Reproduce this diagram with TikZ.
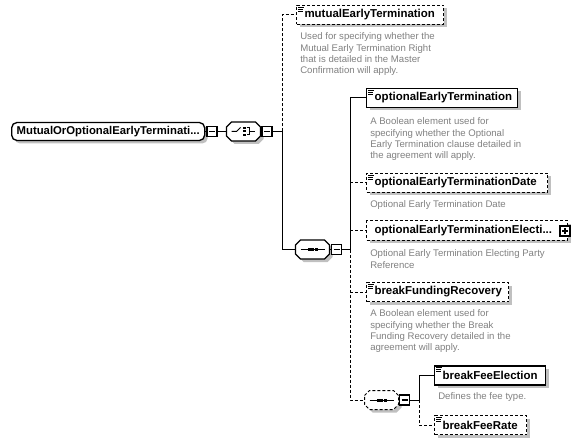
\documentclass[tikz,border=0pt]{standalone}
\usepackage{fontspec}
\setmainfont{Liberation Sans}
\usetikzlibrary{shadows,calc}
\definecolor{docgray}{RGB}{128,128,128}
\definecolor{shadowgray}{RGB}{192,192,192}
\tikzset{
 shd/.style={drop shadow={shadow xshift=2.25pt,shadow yshift=-2.25pt,fill=shadowgray,opacity=1}},
 elem/.style={shd,draw,fill=white,line width=1.1pt,anchor=west,minimum height=14.25pt,inner xsep=6pt,inner ysep=0pt,align=left,font=\fontsize{8.6}{10}\selectfont\bfseries},
 optelem/.style={elem,line width=0.75pt,dash pattern=on 2.25pt off 1.5pt},
 rootst/.style={shd,draw,fill=white,line width=1pt,rounded corners=4pt,anchor=west,minimum height=13.5pt,inner xsep=3.75pt,inner ysep=0pt,align=left,font=\fontsize{8.5}{10}\selectfont\bfseries},
 doc/.style={anchor=north west,inner sep=0pt,align=left,text=docgray,font=\fontsize{7.2}{8.55}\selectfont},
 compnode/.style={draw=none,minimum width=25.5pt,minimum height=14.25pt,inner sep=0pt},
 pm/.style={draw,fill=white,line width=1.2pt,minimum size=7.5pt,inner sep=0pt},
 minusbox/.style={pm,path picture={\draw[line width=0.8pt] ([xshift=1.5pt]path picture bounding box.west) -- ([xshift=-1.5pt]path picture bounding box.east);}},
 plusbox/.style={pm,path picture={\draw[line width=0.8pt] ([xshift=1.5pt]path picture bounding box.west) -- ([xshift=-1.5pt]path picture bounding box.east) ([yshift=-1.5pt]path picture bounding box.north) -- ([yshift=1.5pt]path picture bounding box.south);}},
 conn/.style={line width=0.75pt},
 optconn/.style={conn,dash pattern=on 2.25pt off 1.5pt},
 octline/.style={line width=0.9pt},
 optoctline/.style={line width=0.75pt,dash pattern=on 2.25pt off 1.5pt}
}
\newcommand\octa[2]{%
 \fill[shadowgray] ([shift={(3,3)}]#1.center) +(-17,-4.5) -- +(-12,-9.5) -- +(12,-9.5) -- +(17,-4.5) -- +(17,4.5) -- +(12,9.5) -- +(-12,9.5) -- +(-17,4.5) -- cycle;
 \draw[fill=white,#2] (#1.center) +(-17,-4.5) -- +(-12,-9.5) -- +(12,-9.5) -- +(17,-4.5) -- +(17,4.5) -- +(12,9.5) -- +(-12,9.5) -- +(-17,4.5) -- cycle;}
\newcommand\seqsym[1]{%
 \begin{scope}[shift={(#1.center)}]
  \draw[conn] (-12,0) -- (12,0);
  \fill (-5,-1.5) rectangle (-2,1.5);
  \fill (-1.5,-1.5) rectangle (1.5,1.5);
  \fill (2,-1.5) rectangle (5,1.5);
 \end{scope}}
\newcommand\elicon[1]{%
 \draw[line width=0.75pt] ([shift={(2,2.5)}]#1.north west) -- +(6,0) ([shift={(2,4.5)}]#1.north west) -- +(5,0) ([shift={(2,6.5)}]#1.north west) -- +(5,0);}
\begin{document}
\begin{tikzpicture}[x=0.75pt,y=-0.75pt]
\path[use as bounding box] (0,0) rectangle (581,445);

% root
\node[rootst,text width=137.25pt] (root) at (11,131.5) {MutualOrOptionalEarlyTerminati...};
\node[minusbox] (rootm) at (212,131.5) {};

% choice
\node[compnode] (choice) at (243.5,131.5) {};
\octa{choice}{octline}
\begin{scope}[shift={(choice.center)}]
 \draw[conn] (-12,0) -- (-7,0) -- (-3,-4);
 \fill (-0.5,-4.5) rectangle (2,-2.5);
 \fill (-0.5,-1) rectangle (2,1);
 \fill (-0.5,2.5) rectangle (2,4.5);
 \draw[conn] (3,-3.5) -- (6,-3.5) -- (6,3.5) -- (3,3.5);
 \draw[conn] (6,0) -- (11,0);
\end{scope}
\node[minusbox] (choicem) at (267,131.5) {};
\coordinate (v1) at (282,131.5);

% mutual
\node[optelem,text width=98.25pt] (mutual) at (296,15) {mutualEarlyTermination};
\elicon{mutual}
\node[doc] (dmutual) at (300,32.5) {Used for specifying whether the\\Mutual Early Termination Right\\that is detailed in the Master\\Confirmation will apply.};

% sequence 1
\node[compnode] (seq1) at (312.5,249.5) {};
\octa{seq1}{octline}
\seqsym{seq1}
\node[minusbox] (seq1m) at (336.5,249.5) {};
\coordinate (v2) at (350,249.5);

% children of seq1
\node[elem,text width=101.25pt] (optET) at (366,98) {optionalEarlyTermination};
\elicon{optET}
\node[doc] (doptET) at (370,117.5) {A Boolean element used for\\specifying whether the Optional\\Early Termination clause detailed in\\the agreement will apply.};

\node[optelem,text width=123.75pt] (optETD) at (366,183) {optionalEarlyTerminationDate};
\elicon{optETD}
\node[doc] (doptETD) at (370,200) {Optional Early Termination Date};

\node[optelem,text width=138.75pt] (optETE) at (366,230.5) {optionalEarlyTerminationElecti...};
\node[plusbox] (optETEp) at (565,231) {};
\node[doc] (doptETE) at (370,249.5) {Optional Early Termination Electing Party\\Reference};

\node[optelem,text width=94.5pt] (bfr) at (366,292) {breakFundingRecovery};
\elicon{bfr}
\node[doc] (dbfr) at (370,309.5) {A Boolean element used for\\specifying whether the Break\\Funding Recovery detailed in the\\agreement will apply.};

% sequence 2
\node[compnode] (seq2) at (381.5,400) {};
\octa{seq2}{optoctline}
\seqsym{seq2}
\node[minusbox] (seq2m) at (404.5,400) {};
\coordinate (v3) at (419,400);

\node[elem,text width=71.25pt] (bfe) at (434,375.5) {breakFeeElection};
\elicon{bfe}
\node[doc] (dbfe) at (438,392.5) {Defines the fee type.};

\node[optelem,text width=57pt] (bfrate) at (434,425) {breakFeeRate};
\elicon{bfrate}

% connectors
\draw[conn] (root.east) -- (rootm.west);
\draw[conn] (rootm.east) -- (choice.west);
\draw[conn] (choice.east) -- (choicem.west);
\draw[conn] (choicem.east) -- (v1);
\draw[optconn] (v1) |- (mutual.west);
\draw[conn] (v1) |- (seq1.west);
\draw[conn] (seq1.east) -- (seq1m.west);
\draw[conn] (seq1m.east) -- (v2);
\draw[conn] (v2) |- (optET.west);
\draw[optconn] (optETD.west -| v2) -- (optETD.west);
\draw[optconn] (optETE.west -| v2) -- (optETE.west);
\draw[optconn] (bfr.west -| v2) -- (bfr.west);
\draw[optconn] (v2) |- (seq2.west);
\draw[conn] (seq2.east) -- (seq2m.west);
\draw[conn] (seq2m.east) -- (v3);
\draw[conn] (v3) |- (bfe.west);
\draw[optconn] (v3) |- (bfrate.west);
\end{tikzpicture}
\end{document}
